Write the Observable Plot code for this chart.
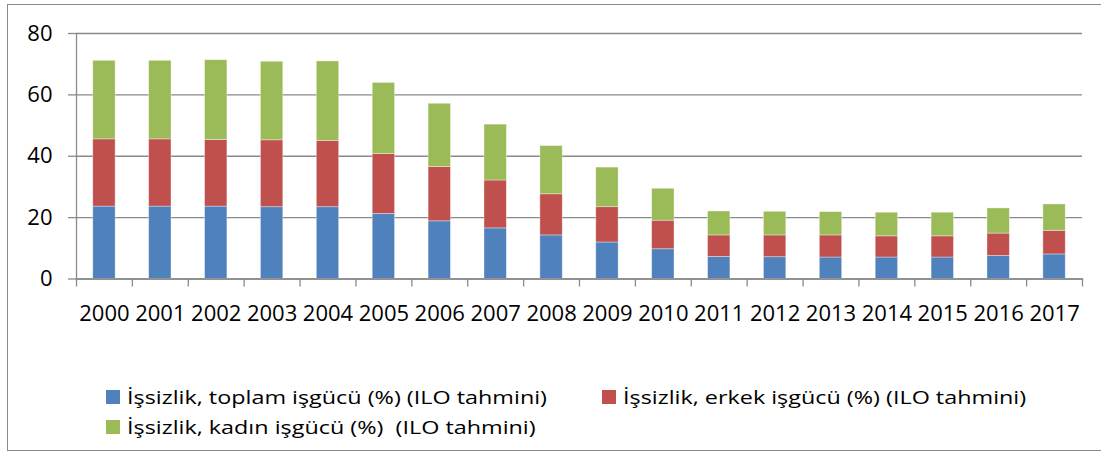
<!DOCTYPE html>
<html>
<head>
<meta charset="utf-8">
<script src="https://cdn.jsdelivr.net/npm/d3@7"></script>
<script src="https://cdn.jsdelivr.net/npm/@observablehq/plot@0.6"></script>
<style>
  html, body { margin: 0; padding: 0; background: #fff; }
  #wrap { position: relative; width: 1101px; height: 455px; overflow: hidden; font-family: "Open Sans", sans-serif; }
  #frame { position: absolute; left: 7px; top: 4px; width: 1110px; height: 447px; border: 1.5px solid #8a8a8a; box-sizing: border-box; }
  #chart { position: absolute; left: 0; top: 0; }
  .leg { position: absolute; font-size: 19px; color: #000; white-space: pre; line-height: 22px; display: flex; align-items: center; }
  .sw { display: inline-block; width: 14px; height: 14px; margin-right: 7px; flex: none; }
  .lt { display: inline-block; transform-origin: 0 50%; }
</style>
</head>
<body>
<div id="wrap">
  <div id="frame"></div>
  <div id="chart"></div>
  <div id="legend"></div>
</div>
<script>
const years = ["2000","2001","2002","2003","2004","2005","2006","2007","2008","2009","2010","2011","2012","2013","2014","2015","2016","2017"];
const seriesNames = [
  "İşsizlik, toplam işgücü (%) (ILO tahmini)",
  "İşsizlik, erkek işgücü (%) (ILO tahmini)",
  "İşsizlik, kadın işgücü (%)  (ILO tahmini)"
];
const toplam = [23.6,23.6,23.6,23.4,23.4,21.2,18.8,16.5,14.2,11.9,9.7,7.2,7.1,7.0,7.0,7.0,7.5,8.0];
const erkek  = [21.9,21.9,21.7,21.8,21.6,19.5,17.7,15.6,13.4,11.5,9.3,7.0,7.1,7.2,6.9,6.9,7.3,7.7];
const kadin  = [25.6,25.6,26.0,25.6,25.9,23.2,20.6,18.2,15.7,12.9,10.4,7.8,7.7,7.6,7.7,7.7,8.2,8.6];
const colors = ["#4f81bd", "#c0504d", "#9bbb59"];
const yTicks = [0, 20, 40, 60, 80];

const seriesValues = [toplam, erkek, kadin];
const data = [];
years.forEach((yr, i) => {
  seriesNames.forEach((s, k) => data.push({year: yr, series: s, value: seriesValues[k][i]}));
});

const W = 1101, mL = 76, mR = 19, mT = 33, H = 335, mB = 56.5;
const step = (W - mL - mR) / years.length;

const plot = Plot.plot({
  width: W, height: H,
  marginLeft: mL, marginRight: mR, marginTop: mT, marginBottom: mB,
  style: {fontFamily: "'Open Sans', sans-serif", fontSize: "22px", color: "#000", background: "transparent", overflow: "visible"},
  x: {domain: years, paddingInner: 0.6, paddingOuter: 0.3, round: false, label: null},
  y: {domain: [0, 80], label: null},
  color: {domain: seriesNames, range: colors},
  marks: [
    Plot.gridY(yTicks, {stroke: "#8a8a8a", strokeOpacity: 1, strokeWidth: 1.3}),
    Plot.barY(data, {x: "year", y: "value", fill: "series", stroke: "#ffffff", strokeOpacity: 0.45, strokeWidth: 0.8}),
    Plot.frame({anchor: "left", stroke: "#8a8a8a", strokeWidth: 1.3}),
    Plot.frame({anchor: "bottom", stroke: "#8a8a8a", strokeWidth: 1.3}),
    Plot.axisY(yTicks, {tickSize: 8, tickPadding: 16, stroke: "#8a8a8a", strokeWidth: 1.3, fill: "#000", fontSize: 22}),
    Plot.axisX({tickSize: 8, dx: -step / 2, text: null, stroke: "#8a8a8a", strokeWidth: 1.3}),
    Plot.axisX([years[years.length - 1]], {tickSize: 8, dx: step / 2, text: null, stroke: "#8a8a8a", strokeWidth: 1.3}),
    Plot.axisX({tickSize: 0, tickPadding: 26, fill: "#000", fontSize: 22})
  ]
});
document.getElementById("chart").appendChild(plot);

const legPos = [
  {left: 106, top: 385.5},
  {left: 602, top: 385.5},
  {left: 106, top: 415.5}
];
const leg = document.getElementById("legend");
const texts = [];
seriesNames.forEach((s, k) => {
  const d = document.createElement("div");
  d.className = "leg";
  d.style.left = legPos[k].left + "px";
  d.style.top = legPos[k].top + "px";
  const sw = document.createElement("span");
  sw.className = "sw";
  sw.style.background = colors[k];
  const t = document.createElement("span");
  t.className = "lt";
  t.textContent = s;
  d.appendChild(sw);
  d.appendChild(t);
  leg.appendChild(d);
  texts.push(t);
});
// stretch legend text horizontally to match the reference's wide rendering
const targetW = 420;
const w0 = texts[0].getBoundingClientRect().width;
const sx = w0 > 0 ? targetW / w0 : 1;
texts.forEach(t => { t.style.transform = `scaleX(${sx})`; });
</script>
</body>
</html>
